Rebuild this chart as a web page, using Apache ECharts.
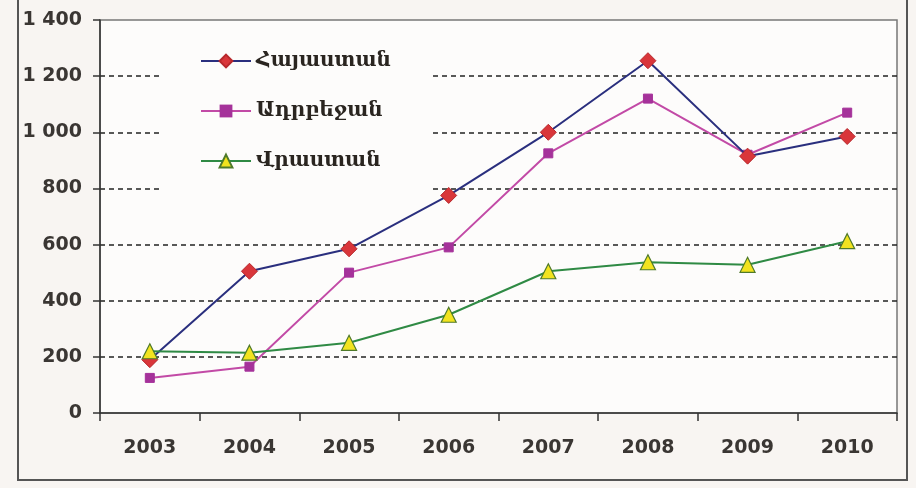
<!DOCTYPE html>
<html>
<head>
<meta charset="utf-8">
<script src="https://cdn.jsdelivr.net/npm/echarts@6/dist/echarts.min.js"></script>
<style>
  html, body { margin: 0; padding: 0; background: #f8f5f2; }
  #chart { width: 916px; height: 488px; }
</style>
</head>
<body>
<div id="chart"></div>
<script>
// 年份
const years = ['2003', '2004', '2005', '2006', '2007', '2008', '2009', '2010'];
// 系列名称
const armeniaName = 'Հայաստան';
const azerbaijanName = 'Ադրբեջան';
const georgiaName = 'Վրաստան';
// 数值
const armenia = [190, 505, 585, 775, 1000, 1255, 915, 985];
const azerbaijan = [125, 165, 500, 590, 925, 1120, 920, 1070];
const georgia = [220, 215, 250, 350, 505, 537, 528, 612];

const chart = echarts.init(document.getElementById('chart'));

const labelFont = 'DejaVu Sans';
const textFont = '"DejaVu Serif", serif';

const option = {
    backgroundColor: '#f8f5f2',
    animation: false,
    grid: {
        left: 100,
        right: 19,
        top: 20,
        bottom: 75,
        show: true,
        backgroundColor: '#fdfcfb',
        borderColor: '#777',
        borderWidth: 1.5
    },
    legend: {
        orient: 'vertical',
        left: 163,
        top: 35,
        padding: [16, 40, 22, 37],
        backgroundColor: '#fdfcfb',
        itemWidth: 50,
        itemHeight: 16,
        itemGap: 30,
        textStyle: { fontFamily: textFont, fontSize: 20, color: '#2a2520', fontWeight: 'bold' },
        data: [armeniaName, azerbaijanName, georgiaName]
    },
    xAxis: {
        type: 'category',
        data: years,
        boundaryGap: true,
        axisLine: { lineStyle: { color: '#333', width: 1.5 } },
        axisTick: { show: true, length: 8, lineStyle: { color: '#333', width: 1.5 } },
        axisLabel: { fontFamily: labelFont, fontSize: 19, fontWeight: 'bold', color: '#3a3633', margin: 26 }
    },
    yAxis: {
        type: 'value',
        min: 0,
        max: 1400,
        interval: 200,
        axisLine: { show: true, lineStyle: { color: '#333', width: 1.5 } },
        axisTick: { show: true, length: 7, lineStyle: { color: '#333', width: 1.5 } },
        axisLabel: {
            fontFamily: labelFont, fontSize: 19, fontWeight: 'bold', color: '#3a3633', margin: 18,
            formatter: v => v >= 1000 ? Math.floor(v / 1000) + ' ' + String(v % 1000).padStart(3, '0') : String(v)
        },
        splitLine: {
            show: true,
            showMinLine: false,
            showMaxLine: false,
            lineStyle: { color: '#222', width: 1.5, type: [5, 4] }
        }
    },
    series: [
        {
            name: armeniaName,
            type: 'line',
            data: armenia,
            symbol: 'diamond',
            symbolSize: 16,
            lineStyle: { color: '#2a2f7e', width: 2 },
            itemStyle: { color: '#d9363a', borderColor: '#b8282c', borderWidth: 1 },
            z: 4
        },
        {
            name: azerbaijanName,
            type: 'line',
            data: azerbaijan,
            symbol: 'rect',
            symbolSize: 9,
            lineStyle: { color: '#c24aa6', width: 2 },
            itemStyle: { color: '#a5329a', borderColor: '#a5329a' },
            z: 3
        },
        {
            name: georgiaName,
            type: 'line',
            data: georgia,
            symbol: 'triangle',
            symbolSize: 15,
            lineStyle: { color: '#2f8a44', width: 2 },
            itemStyle: { color: '#f2e31f', borderColor: '#4f7a2a', borderWidth: 1.2 },
            z: 5
        }
    ],
    graphic: [
        {
            type: 'rect',
            shape: { x: 18, y: -4, width: 889, height: 484 },
            style: { fill: 'none', stroke: '#555', lineWidth: 2 },
            silent: true
        }
    ]
};

chart.setOption(option);
</script>
</body>
</html>
